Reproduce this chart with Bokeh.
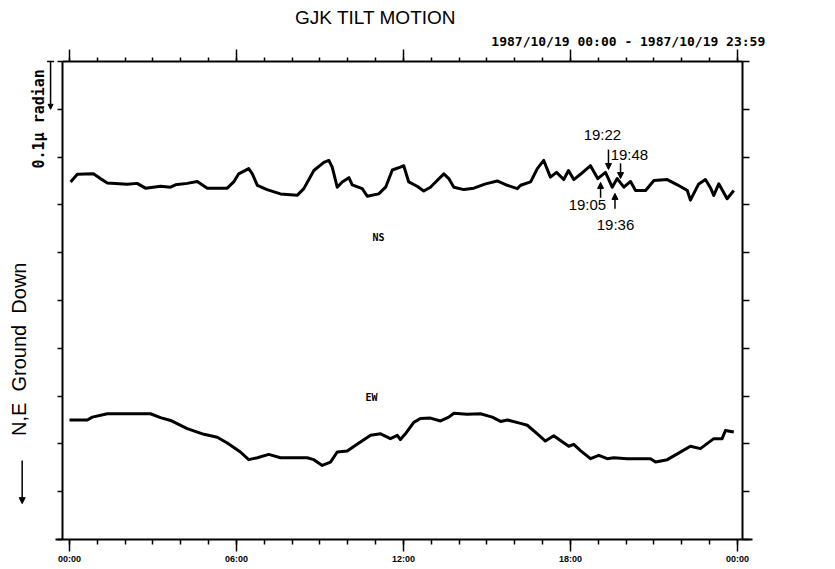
from bokeh.plotting import figure
from bokeh.models import LinearAxis, FixedTicker, Label, Arrow, NormalHead, TeeHead, ColumnDataSource
from bokeh.embed import file_html
from bokeh.resources import INLINE

# time: hours since 1987/10/19 00:00 ; tilt: micro-radian (relative, 0.1 per division)
ns_hours = [0.04, 0.28, 0.86, 1.11, 1.36, 2.07, 2.43, 2.73, 3.27, 3.63, 3.81, 4.23, 4.59,
            4.95, 5.67, 5.90, 6.08, 6.44, 6.57, 6.75, 7.10, 7.58, 8.18, 8.42, 8.78, 9.14,
            9.32, 9.44, 9.62, 9.80, 10.04, 10.16, 10.52, 10.70, 11.11, 11.36, 11.60, 11.89,
            12.01, 12.19, 12.49, 12.73, 12.97, 13.21, 13.45, 13.63, 13.81, 14.17, 14.53,
            14.95, 15.37, 15.73, 16.09, 16.21, 16.57, 16.81, 17.04, 17.28, 17.50, 17.76,
            17.93, 18.12, 18.36, 18.72, 18.98, 19.26, 19.50, 19.68, 19.92, 20.16, 20.34,
            20.70, 21.00, 21.48, 21.84, 22.20, 22.31, 22.60, 22.85, 23.03, 23.15, 23.33,
            23.63, 23.87]
ns_tilt = [0.748, 0.764, 0.765, 0.755, 0.746, 0.743, 0.745, 0.735, 0.739, 0.737, 0.742,
           0.745, 0.749, 0.735, 0.735, 0.748, 0.765, 0.776, 0.765, 0.741, 0.732, 0.723,
           0.720, 0.734, 0.772, 0.789, 0.793, 0.779, 0.737, 0.748, 0.757, 0.742, 0.734,
           0.718, 0.723, 0.737, 0.773, 0.779, 0.782, 0.748, 0.739, 0.729, 0.737, 0.751,
           0.765, 0.755, 0.737, 0.732, 0.735, 0.744, 0.750, 0.741, 0.734, 0.741, 0.748,
           0.776, 0.793, 0.758, 0.768, 0.753, 0.772, 0.753, 0.764, 0.782, 0.755, 0.768,
           0.737, 0.755, 0.737, 0.749, 0.730, 0.730, 0.751, 0.753, 0.742, 0.730, 0.710,
           0.743, 0.753, 0.736, 0.720, 0.744, 0.713, 0.730]

ew_hours = [0.00, 0.64, 0.82, 1.36, 2.91, 3.27, 3.63, 4.23, 4.83, 5.31, 5.67, 6.14, 6.44,
            6.75, 7.16, 7.58, 8.54, 8.78, 9.08, 9.38, 9.62, 9.98, 10.28, 10.82, 11.18,
            11.53, 11.78, 11.89, 12.07, 12.37, 12.61, 12.97, 13.33, 13.63, 13.81, 14.29,
            14.77, 15.19, 15.49, 15.73, 16.21, 16.45, 16.81, 17.10, 17.40, 17.64, 17.94,
            18.12, 18.36, 18.72, 19.02, 19.32, 19.56, 20.04, 20.88, 21.06, 21.48, 21.84,
            22.31, 22.67, 23.15, 23.45, 23.57, 23.87]
ew_tilt = [0.250, 0.250, 0.256, 0.263, 0.263, 0.255, 0.249, 0.232, 0.220, 0.214, 0.202,
           0.183, 0.167, 0.171, 0.178, 0.171, 0.171, 0.167, 0.155, 0.162, 0.183, 0.185,
           0.197, 0.218, 0.221, 0.211, 0.218, 0.209, 0.221, 0.245, 0.253, 0.254, 0.248,
           0.256, 0.264, 0.262, 0.263, 0.256, 0.247, 0.250, 0.243, 0.239, 0.221, 0.206,
           0.217, 0.207, 0.195, 0.199, 0.186, 0.169, 0.176, 0.169, 0.171, 0.169, 0.169,
           0.162, 0.167, 0.179, 0.195, 0.190, 0.211, 0.211, 0.228, 0.225]

tick_hours = [0, 6, 12, 18, 24]
tick_labels = ["00:00", "06:00", "12:00", "18:00", "00:00"]
minor_hours = list(range(0, 25))
tilt_ticks = [i / 10 for i in range(11)]

event_labels = ["19:05", "19:22", "19:36", "19:48"]
event_hours = [19 + 5 / 60, 19 + 22 / 60, 19 + 36 / 60, 19 + 48 / 60]

title_text = "GJK TILT MOTION"
period_text = "1987/10/19 00:00 - 1987/10/19 23:59"
series_names = ["NS", "EW"]
y_desc = "N,E\u00a0\u00a0Ground\u00a0\u00a0Down"
scale_desc = "0.1\u00b5 radian"

# box of the plotted area (hours / micro-radian)
X0, X1 = -0.25, 24.18
Y0, Y1 = 0.0, 1.0

p = figure(width=835, height=569, x_range=(-2.479, 27.524), y_range=(-0.0628, 1.1276),
           output_backend="svg", toolbar_location=None,
           x_axis_location=None, y_axis_location=None,
           min_border=0, min_border_left=0, min_border_right=0,
           min_border_top=0, min_border_bottom=0,
           background_fill_color="white", border_fill_color="white")
p.grid.visible = False
p.outline_line_color = None


def make_axis(ticker, loc, bounds, out, minor_out, labels=None):
    ax = LinearAxis(ticker=ticker, fixed_location=loc, bounds=bounds)
    ax.axis_line_color = "black"
    ax.axis_line_width = 2
    ax.major_tick_line_color = "black"
    ax.major_tick_line_width = 1.5
    ax.major_tick_in = 0
    ax.major_tick_out = out
    ax.minor_tick_line_color = "black" if minor_out else None
    ax.minor_tick_line_width = 1.5
    ax.minor_tick_in = 0
    ax.minor_tick_out = minor_out
    if labels is None:
        ax.major_label_text_color = None
    else:
        ax.major_label_overrides = labels
        ax.major_label_text_font = "Liberation Sans"
        ax.major_label_text_font_style = "bold"
        ax.major_label_text_font_size = "9px"
        ax.major_label_standoff = 3
        ax.major_label_text_color = "black"
    return ax


xt = FixedTicker(ticks=tick_hours, minor_ticks=minor_hours)
yt = FixedTicker(ticks=tilt_ticks, minor_ticks=[])
p.add_layout(make_axis(xt, Y0, (-0.5, 24.55), 12, 5,
                       {h: l for h, l in zip(tick_hours, tick_labels)}), "below")
p.add_layout(make_axis(xt, Y1, (X0, X1), 12, 4), "above")
p.add_layout(make_axis(yt, X0, (Y0, Y1), 5, 0), "left")
p.add_layout(make_axis(yt, X1, (Y0, Y1), 7, 0), "right")

ns_src = ColumnDataSource(dict(x=ns_hours, y=ns_tilt))
ew_src = ColumnDataSource(dict(x=ew_hours, y=ew_tilt))
p.line("x", "y", source=ns_src, line_color="black", line_width=3, line_join="round")
p.line("x", "y", source=ew_src, line_color="black", line_width=3, line_join="round")

labels = []
# titles
labels.append(Label(x=11.0, y=1.093, text=title_text, text_font="Liberation Sans",
                    text_font_size="19px", text_align="center", text_baseline="middle"))
labels.append(Label(x=25.0, y=1.042, text=period_text, text_font="DejaVu Sans Mono",
                    text_font_style="bold", text_font_size="13px", text_align="right",
                    text_baseline="middle"))
# series names
labels.append(Label(x=11.10, y=0.632, text=series_names[0], text_font="DejaVu Sans Mono",
                    text_font_style="bold", text_font_size="10px", text_align="center",
                    text_baseline="middle"))
labels.append(Label(x=10.85, y=0.297, text=series_names[1], text_font="DejaVu Sans Mono",
                    text_font_style="bold", text_font_size="10px", text_align="center",
                    text_baseline="middle"))
# y-axis description and scale
labels.append(Label(x=-1.80, y=0.398, text=y_desc, text_font="Liberation Sans",
                    text_font_size="20px", text_align="center", text_baseline="middle",
                    angle=90, angle_units="deg"))
labels.append(Label(x=-1.08, y=0.880, text=scale_desc, text_font="DejaVu Sans Mono",
                    text_font_style="bold", text_font_size="15px", text_align="center",
                    text_baseline="middle", angle=90, angle_units="deg"))
# event annotations
ev_text_pos = [(18.61, 0.701), (19.15, 0.847), (19.62, 0.660), (20.12, 0.805)]
ev_arrow_y = [(0.715, 0.747), (0.816, 0.774), (0.692, 0.724), (0.787, 0.755)]
for lab, (tx, ty) in zip(event_labels, ev_text_pos):
    labels.append(Label(x=tx, y=ty, text=lab, text_font="Liberation Sans",
                        text_font_size="15px", text_align="center", text_baseline="middle"))
for lb in labels:
    lb.text_color = "black"
    p.add_layout(lb)

for h, (y0, y1) in zip(event_hours, ev_arrow_y):
    p.add_layout(Arrow(x_start=h, y_start=y0, x_end=h, y_end=y1, line_width=1.5,
                       line_color="black",
                       end=NormalHead(size=6, fill_color="black", line_color="black")))
p.add_layout(Arrow(x_start=-1.70, y_start=0.165, x_end=-1.70, y_end=0.075, line_width=1.5,
                   line_color="black",
                   end=NormalHead(size=6, fill_color="black", line_color="black")))
p.add_layout(Arrow(x_start=-0.68, y_start=1.0, x_end=-0.68, y_end=0.9, line_width=1.5,
                   line_color="black",
                   start=TeeHead(size=7, line_color="black", line_width=1.5),
                   end=NormalHead(size=5, fill_color="black", line_color="black")))

open("out.html", "w").write(file_html(p, INLINE))
